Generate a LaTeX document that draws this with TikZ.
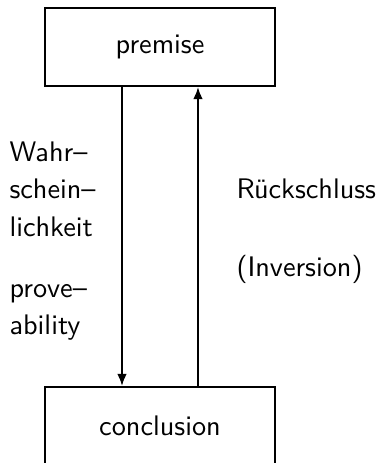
\documentclass[tikz,border=0pt]{standalone}
\usetikzlibrary{arrows.meta}
\begin{document}
\begin{tikzpicture}[x=0.375pt,y=-0.375pt,font=\sffamily\fontsize{10.6}{12}\selectfont,
  box/.style={draw,line width=0.85pt,minimum width=86.25pt,minimum height=29.25pt,inner sep=0pt},
  lbl/.style={anchor=base west,inner sep=0pt},
  conn/.style={line width=0.65pt,-{Latex[length=4.5pt,width=3.6pt]}}]
\useasboundingbox (0,0) rectangle (380,463);
\node[box] (premise) at (160,47) {premise};
\node[box] (conclusion) at (160,426) {conclusion};
\draw[conn] ([xshift=-14.25pt]premise.south) -- ([xshift=-14.25pt]conclusion.north);
\draw[conn] ([xshift=14.25pt]conclusion.north) -- ([xshift=14.25pt]premise.south);
\node[lbl] (l1) at (9,161) {Wahr--};
\node[lbl] (l2) at (9,198) {schein--};
\node[lbl] (l3) at (9,236) {lichkeit};
\node[lbl] (l4) at (9,297) {prove--};
\node[lbl] (l5) at (9,334) {ability};
\node[lbl] (r1) at (236,198) {Rückschluss};
\node[lbl] (r2) at (236,276) {(Inversion)};
\end{tikzpicture}
\end{document}
